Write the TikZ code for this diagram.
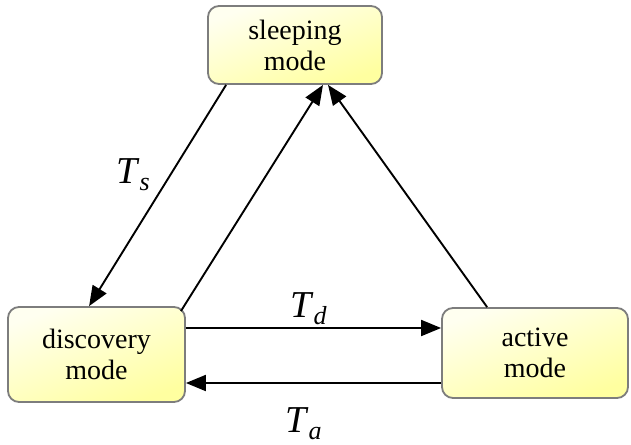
\documentclass[tikz,border=0pt]{standalone}
\usepackage{fontspec}
\setmainfont{Liberation Serif}
\usetikzlibrary{arrows.meta}
\definecolor{boxedge}{RGB}{125,125,125}
\definecolor{boxlight}{RGB}{255,255,240}
\definecolor{boxdark}{RGB}{255,255,160}
\newcommand{\tsub}[2]{\textit{#1}\raisebox{-0.2em}{\fontsize{26}{26}\selectfont\itshape #2}}
\tikzset{
  modebox/.style={draw=boxedge, line width=1.8pt, rounded corners=11pt,
    top color=boxlight, bottom color=boxdark, shading angle=20,
    align=center, font=\rmfamily\fontsize{28}{31}\selectfont, inner sep=0pt},
  arr/.style={line width=1.9pt, -{Triangle[length=20pt,width=16pt]}},
  tlab/.style={font=\fontsize{38}{40}\selectfont, inner sep=0pt, anchor=base west}
}
\begin{document}
\begin{tikzpicture}[x=1pt,y=-1pt]
\useasboundingbox (0,0) rectangle (631,444);
\node[modebox, minimum width=174pt, minimum height=78pt] (sleep) at (295,45) {sleeping\\mode};
\node[modebox, minimum width=177pt, minimum height=95pt] (disc) at (96.5,354.5) {discovery\\mode};
\node[modebox, minimum width=186pt, minimum height=90pt] (act) at (535,353) {active\\mode};
\draw[arr] ([xshift=19pt]sleep.south west) -- ([xshift=82pt]disc.north west);
\draw[arr] ([xshift=-5pt,yshift=-5pt]disc.north east) -- ([xshift=28pt]sleep.south);
\draw[arr] ([xshift=46pt]act.north west) -- ([xshift=33pt]sleep.south);
\draw[arr] ([yshift=26.5pt]disc.east) -- ([yshift=26.5pt]disc.east -| act.west);
\draw[arr] ([yshift=-28.5pt]disc.east -| act.west) -- ([yshift=-28.5pt]disc.east);
\node[tlab] (ts) at (116,183) {\tsub{T}{s}};
\node[tlab] (td) at (290,317) {\tsub{T}{d}};
\node[tlab] (ta) at (285,432) {\tsub{T}{a}};
\end{tikzpicture}
\end{document}
